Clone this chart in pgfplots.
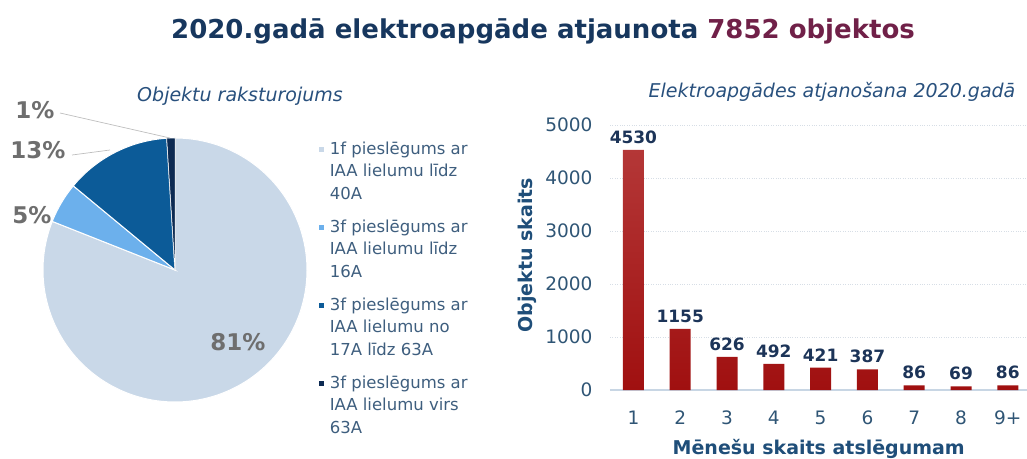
\documentclass[border=0pt]{standalone}
\usepackage{fontspec}
\setmainfont{DejaVu Sans}
\usepackage{pgfplots}
\pgfplotsset{compat=1.18}
\definecolor{navy}{RGB}{23,55,94}
\definecolor{maroon}{RGB}{112,32,72}
\definecolor{subc}{RGB}{40,80,125}
\definecolor{legc}{RGB}{62,94,126}
\definecolor{tickc}{RGB}{47,85,117}
\definecolor{labc}{RGB}{31,78,121}
\definecolor{valc}{RGB}{28,52,88}
\definecolor{pctc}{RGB}{110,110,110}
\definecolor{cA}{RGB}{201,216,232}
\definecolor{cB}{RGB}{108,176,236}
\definecolor{cC}{RGB}{12,91,152}
\definecolor{cD}{RGB}{12,42,82}
\definecolor{barc}{RGB}{160,16,16}
\definecolor{bartop}{RGB}{180,55,55}
\definecolor{gridc}{RGB}{215,222,230}
\definecolor{axisc}{RGB}{200,214,228}
\definecolor{leadc}{RGB}{190,190,190}
\begin{document}
\begin{tikzpicture}
\useasboundingbox (0pt,0pt) rectangle (1027pt,458pt);
% pie data (percent)
\def\pA{81}\def\pB{5}\def\pC{13}\def\pD{1}
\pgfmathsetmacro\aA{90}
\pgfmathsetmacro\aB{\aA-3.6*\pA}
\pgfmathsetmacro\aC{\aB-3.6*\pB}
\pgfmathsetmacro\aD{\aC-3.6*\pC}
\pgfmathsetmacro\aE{\aD-3.6*\pD}
\begin{axis}[at={(43pt,56pt)}, anchor=south west, x=132pt, y=132pt,
  xmin=-1, xmax=1, ymin=-1, ymax=1, hide axis, clip=false,
  legend style={draw=none, fill=none, at={(1.04,0.99)}, anchor=north west,
    inner sep=0pt, row sep=17pt, font=\fontsize{16.5}{22.5}\selectfont, text=legc,
    nodes={align=left, inner sep=1pt}},
  legend cell align=left,
  legend image code/.code={\fill[#1] (0pt,19pt) rectangle (6pt,25pt); \path (0pt,19pt) -- (10pt,19pt);},
]
\addplot[fill=cA, draw=white, line width=1pt, domain=\aB:\aA, samples=150] ({cos(x)},{sin(x)}) -- (axis cs:0,0) -- cycle;
\addlegendentry{1f pieslēgums ar\\IAA lielumu līdz\\40A}
\addplot[fill=cB, draw=white, line width=1pt, domain=\aC:\aB, samples=30] ({cos(x)},{sin(x)}) -- (axis cs:0,0) -- cycle;
\addlegendentry{3f pieslēgums ar\\IAA lielumu līdz\\16A}
\addplot[fill=cC, draw=white, line width=1pt, domain=\aD:\aC, samples=50] ({cos(x)},{sin(x)}) -- (axis cs:0,0) -- cycle;
\addlegendentry{3f pieslēgums ar\\IAA lielumu no\\17A līdz 63A}
\addplot[fill=cD, draw=white, line width=0.5pt, domain=\aE:\aD, samples=10] ({cos(x)},{sin(x)}) -- (axis cs:0,0) -- cycle;
\addlegendentry{3f pieslēgums ar\\IAA lielumu virs\\63A}
\end{axis}
% pie labels
\draw[leadc, line width=0.7pt] (60pt,345pt) -- (170pt,320pt);
\draw[leadc, line width=0.7pt] (72pt,303pt) -- (110pt,308pt);
\node[text=pctc, font=\bfseries\fontsize{23}{25}\selectfont] at (35pt,348pt) {1\%};
\node[text=pctc, font=\bfseries\fontsize{23}{25}\selectfont] at (38pt,308pt) {13\%};
\node[text=pctc, font=\bfseries\fontsize{23}{25}\selectfont] at (32pt,243pt) {5\%};
\node[text=pctc, font=\bfseries\fontsize{23}{25}\selectfont] at (238pt,116pt) {81\%};
% bar chart
\begin{axis}[at={(610pt,68pt)}, anchor=south west, x=46.8pt, y=0.053pt,
  xmin=0.5, xmax=9.42, ymin=0, ymax=5000,
  ybar, bar width=21pt,
  axis line style={draw=none}, tick style={draw=none},
  ymajorgrids, grid style={gridc, dotted, line width=0.8pt},
  ytick={0,1000,2000,3000,4000,5000},
  xtick={1,2,3,4,5,6,7,8,9}, xticklabels={1,2,3,4,5,6,7,8,9+},
  /pgf/number format/assume math mode=true,
  scaled y ticks=false,
  /pgf/number format/1000 sep={},
  ticklabel style={font=\fontsize{18.5}{20}\selectfont, text=tickc},
  xticklabel style={yshift=-13pt},
  yticklabel style={xshift=-14pt},
  xlabel={Mēnešu skaits atslēgumam}, ylabel={Objektu skaits},
  label style={font=\bfseries\fontsize{19}{22}\selectfont, text=labc},
  xlabel style={at={(axis description cs:0.5,-0.222)}, anchor=center},
  ylabel style={at={(axis description cs:-0.199,0.509)}, anchor=center},
  nodes near coords,
  nodes near coords style={font=\bfseries\fontsize{17}{20}\selectfont, text=valc, yshift=3pt},
  extra y ticks={0}, extra y tick labels={},
  extra y tick style={grid style={solid, axisc, line width=1.2pt}},
  clip=false,
]
\addplot[draw=none, top color=bartop, bottom color=barc] coordinates {(1,4530) (2,1155) (3,626) (4,492) (5,421) (6,387) (7,86) (8,69) (9,86)};
\end{axis}
% titles
\node[font=\bfseries\fontsize{26}{30}\selectfont] at (543pt,427pt) {\textcolor{navy}{2020.gadā elektroapgāde atjaunota} \textcolor{maroon}{7852 objektos}};
\node[font=\itshape\fontsize{19}{22}\selectfont, text=subc] at (240pt,362pt) {Objektu raksturojums};
\node[font=\itshape\fontsize{19}{22}\selectfont, text=subc] at (832pt,366pt) {Elektroapgādes atjanošana 2020.gadā};
\end{tikzpicture}
\end{document}
